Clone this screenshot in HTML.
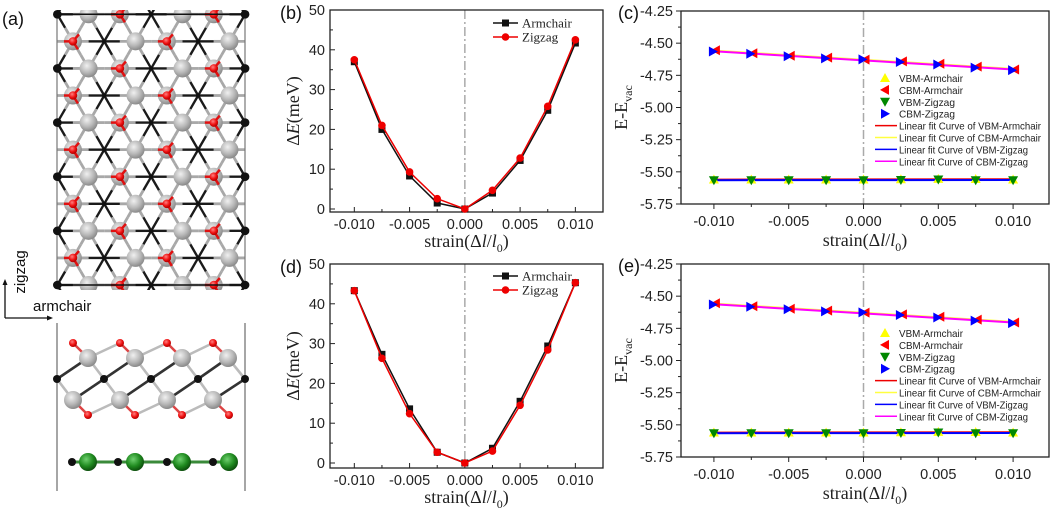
<!DOCTYPE html>
<html><head><meta charset="utf-8">
<style>
html,body{margin:0;padding:0;background:#fff;}
svg{display:block;}
text{font-family:"Liberation Sans",Arial,sans-serif;}
.tm{font-family:"Liberation Serif","Times New Roman",serif;}
</style></head>
<body>
<svg id="fig" width="1052" height="508" viewBox="0 0 1052 508" xmlns="http://www.w3.org/2000/svg">
<defs>
<radialGradient id="gGray" cx="40%" cy="35%" r="65%"><stop offset="0" stop-color="#f0f0f0"/><stop offset="0.6" stop-color="#b8b8b8"/><stop offset="1" stop-color="#8a8a8a"/></radialGradient>
<radialGradient id="gRed" cx="40%" cy="35%" r="65%"><stop offset="0" stop-color="#ff8080"/><stop offset="0.6" stop-color="#ee1010"/><stop offset="1" stop-color="#b00000"/></radialGradient>
<radialGradient id="gGreen" cx="40%" cy="35%" r="65%"><stop offset="0" stop-color="#6fd06f"/><stop offset="0.6" stop-color="#1f8a1f"/><stop offset="1" stop-color="#0c4f0c"/></radialGradient>
<clipPath id="topClip"><rect x="57" y="10" width="188" height="280"/></clipPath>
</defs>
<g id="structure"></g>
<g id="panels"></g>
</svg>
<script>
// ---------- chart data ----------
const strainValues = [-0.01,-0.0075,-0.005,-0.0025,0,0.0025,0.005,0.0075,0.01];
const bArmchair = [37.0,20.0,8.3,1.5,0,4.0,12.2,24.8,41.7];
const bZigzag = [37.5,21.0,9.3,2.6,0,4.7,12.8,25.8,42.5];
const dArmchair = [43.3,27.3,13.6,2.7,0,3.7,15.5,29.4,45.3];
const dZigzag = [43.3,26.3,12.4,2.7,0,3.0,14.5,28.4,45.3];
const cbmArmchair = [-4.555,-4.578,-4.598,-4.612,-4.628,-4.642,-4.66,-4.682,-4.705];
const cbmZigzag = [-4.565,-4.582,-4.602,-4.618,-4.626,-4.646,-4.666,-4.69,-4.71];
const vbmArmchair = [-5.56,-5.56,-5.56,-5.56,-5.56,-5.558,-5.555,-5.556,-5.56];
const vbmZigzag = [-5.565,-5.565,-5.565,-5.565,-5.565,-5.563,-5.56,-5.565,-5.565];
const xTicks = [-0.01,-0.005,0,0.005,0.01];
const xTickLabels = ["-0.010","-0.005","0.000","0.005","0.010"];
const eTicks = [0,10,20,30,40,50];
const vTicks = [-4.25,-4.5,-4.75,-5.0,-5.25,-5.5,-5.75];
const vTickLabels = ["-4.25","-4.50","-4.75","-5.00","-5.25","-5.50","-5.75"];

const NS="http://www.w3.org/2000/svg";
function mk(tag, attrs, parent){const e=document.createElementNS(NS,tag);for(const k in attrs)e.setAttribute(k,attrs[k]);parent.appendChild(e);return e;}
function txt(s, attrs, parent){const e=mk('text',attrs,parent);e.textContent=s;return e;}

const panels=document.getElementById('panels');

function linFit(xs,ys){const n=xs.length;let sx=0,sy=0,sxx=0,sxy=0;for(let i=0;i<n;i++){sx+=xs[i];sy+=ys[i];sxx+=xs[i]*xs[i];sxy+=xs[i]*ys[i];}const b=(n*sxy-sx*sy)/(n*sxx-sx*sx);return [b,(sy-b*sx)/n];}

function energyPanel(pname,label,box,arm,zig,legY){
  const g=mk('g',{},panels);
  
  
  const X=v=>box.l+(v-(-0.0122))/(0.0125+0.0122)*(box.r-box.l);
  const Y=v=>box.y0-(v-0)*(box.y0-box.y50)/50;
  const pl=txt(label,{x:box.l-50,y:box.t+9,'font-size':18,fill:'#111'},g);
  
  const zl=mk('line',{x1:X(0),x2:X(0),y1:box.t,y2:box.b,stroke:'#aaa','stroke-width':1.5,'stroke-dasharray':'9,3,2,3'},g);
  
  const frame=mk('rect',{x:box.l,y:box.t,width:box.r-box.l,height:box.b-box.t,fill:'none',stroke:'#222','stroke-width':1.3},g);
  
  xTicks.forEach((v,i)=>{
    mk('line',{x1:X(v),x2:X(v),y1:box.b,y2:box.b-5,stroke:'#222'},g);
    const t=txt(xTickLabels[i],{x:X(v),y:box.b+17,'text-anchor':'middle','font-size':14.5,fill:'#222'},g);
    
  });
  for(let k=0;k<9;k++){const v=-0.01+k*0.0025;if(k%2)mk('line',{x1:X(v),x2:X(v),y1:box.b,y2:box.b-3,stroke:'#222'},g);}
  eTicks.forEach(v=>{
    mk('line',{x1:box.l,x2:box.l+5,y1:Y(v),y2:Y(v),stroke:'#222'},g);
    if(v<50)mk('line',{x1:box.l,x2:box.l+3,y1:Y(v+5),y2:Y(v+5),stroke:'#222'},g);
    const t=txt(String(v),{x:box.l-5,y:Y(v)+5,'text-anchor':'end','font-size':14.5,fill:'#222'},g);
    
  });
  const yt=txt('',{x:0,y:0,'font-size':18,fill:'#222','text-anchor':'middle',class:'tm',transform:`translate(${box.l-31},${(box.t+box.b)/2}) rotate(-90)`},g);
  yt.innerHTML='Δ<tspan font-style="italic">E</tspan>(meV)';
  
  const xt=txt('',{x:(box.l+box.r)/2,y:box.b+35,'font-size':18,fill:'#222','text-anchor':'middle',class:'tm'},g);
  xt.innerHTML='strain(Δ<tspan font-style="italic">l</tspan>/<tspan font-style="italic">l</tspan><tspan font-size="12" dy="5">0</tspan><tspan dy="-5">)</tspan>';
  
  const series=[[arm,'#111','sq','armchair-series'],[zig,'#e00','ci','zigzag-series']];
  series.forEach(([d,c,m,nm])=>{
    const sg=mk('g',{},g);
    
    mk('polyline',{points:strainValues.map((v,i)=>X(v)+','+Y(d[i])).join(' '),fill:'none',stroke:c,'stroke-width':1.5},sg);
    strainValues.forEach((v,i)=>{
      let p;
      if(m==='sq')p=mk('rect',{x:X(v)-3.5,y:Y(d[i])-3.5,width:7,height:7,fill:c},sg);
      else p=mk('circle',{cx:X(v),cy:Y(d[i]),r:3.8,fill:c},sg);
      
    });
  });
  const lg=mk('g',{},g);
  
  [['Armchair','#111','sq'],['Zigzag','#e00','ci']].forEach(([s,c,m],i)=>{
    const y=legY+i*14;
    const e=mk('g',{},lg);
    
    mk('line',{x1:box.l+163,x2:box.l+188,y1:y,y2:y,stroke:c,'stroke-width':1.5},e);
    if(m==='sq')mk('rect',{x:box.l+172,y:y-3.5,width:7,height:7,fill:c},e);else mk('circle',{cx:box.l+175.5,cy:y,r:3.8,fill:c},e);
    txt(s,{x:box.l+192,y:y+4.5,'font-size':13,fill:'#222',class:'tm'},e);
  });
}

function tri(g,x,y,dir,c,s){
  let pts;
  if(dir==='up')pts=[[x,y-s],[x-s,y+s*0.8],[x+s,y+s*0.8]];
  else if(dir==='down')pts=[[x,y+s],[x-s,y-s*0.8],[x+s,y-s*0.8]];
  else if(dir==='left')pts=[[x-s,y],[x+s*0.8,y-s],[x+s*0.8,y+s]];
  else pts=[[x+s,y],[x-s*0.8,y-s],[x-s*0.8,y+s]];
  return mk('polygon',{points:pts.map(p=>p.join(',')).join(' '),fill:c},g);
}

function bandPanel(pname,label,box,legY){
  const g=mk('g',{},panels);
  
  
  const X=v=>box.l+(v-(-0.0122))/(0.0124+0.0122)*(box.r-box.l);
  const Y=v=>box.t+(-4.25-v)/1.5*(box.b-box.t);
  const pl=txt(label,{x:box.l-63,y:box.t+8,'font-size':18,fill:'#111'},g);
  
  const zl=mk('line',{x1:X(0),x2:X(0),y1:box.t,y2:box.b,stroke:'#aaa','stroke-width':1.5,'stroke-dasharray':'9,3,2,3'},g);
  
  const frame=mk('rect',{x:box.l,y:box.t,width:box.r-box.l,height:box.b-box.t,fill:'none',stroke:'#222','stroke-width':1.3},g);
  
  xTicks.forEach((v,i)=>{
    mk('line',{x1:X(v),x2:X(v),y1:box.b,y2:box.b+5,stroke:'#222'},g);
    const t=txt(xTickLabels[i],{x:X(v),y:box.b+22,'text-anchor':'middle','font-size':14.5,fill:'#222'},g);
    
  });
  for(let k=1;k<9;k+=2){const v=-0.01+k*0.0025;mk('line',{x1:X(v),x2:X(v),y1:box.b,y2:box.b+3,stroke:'#222'},g);}
  vTicks.forEach((v,i)=>{
    mk('line',{x1:box.l,x2:box.l-5,y1:Y(v),y2:Y(v),stroke:'#222'},g);
    if(i<vTicks.length-1)mk('line',{x1:box.l,x2:box.l-3,y1:Y(v-0.125),y2:Y(v-0.125),stroke:'#222'},g);
    const t=txt(vTickLabels[i],{x:box.l-8,y:Y(v)+5,'text-anchor':'end','font-size':14.5,fill:'#222'},g);
    
  });
  const yt=txt('',{x:0,y:0,'font-size':18,fill:'#222','text-anchor':'middle',class:'tm',transform:`translate(${box.l-54},${(box.t+box.b)/2}) rotate(-90)`},g);
  yt.innerHTML='E-E<tspan font-size="12" dy="5">vac</tspan>';
  
  const xt=txt('',{x:(box.l+box.r)/2,y:box.b+42,'font-size':18,fill:'#222','text-anchor':'middle',class:'tm'},g);
  xt.innerHTML='strain(Δ<tspan font-style="italic">l</tspan>/<tspan font-style="italic">l</tspan><tspan font-size="12" dy="5">0</tspan><tspan dy="-5">)</tspan>';
  
  const fits=[[vbmArmchair,'#e00','fit-vbm-armchair'],[cbmArmchair,'#ffff40','fit-cbm-armchair'],[vbmZigzag,'#00f','fit-vbm-zigzag'],[cbmZigzag,'#f0f','fit-cbm-zigzag']];
  fits.forEach(([d,c,nm])=>{
    const [b,a]=linFit(strainValues,d);
    const l=mk('line',{x1:X(-0.01),x2:X(0.01),y1:Y(a+b*-0.01),y2:Y(a+b*0.01),stroke:c,'stroke-width':2},g);
    
  });
  const mks=[[vbmArmchair,'up','#ff0','vbm-armchair-series'],[cbmArmchair,'left','#f00','cbm-armchair-series'],[vbmZigzag,'down','#080','vbm-zigzag-series'],[cbmZigzag,'right','#00f','cbm-zigzag-series']];
  mks.forEach(([d,dir,c,nm])=>{
    const sg=mk('g',{},g);
    
    strainValues.forEach((v,i)=>{
      const p=tri(sg,X(v)+(dir==='left'?2:dir==='right'?-1:0),Y(d[i]),dir,c,5);
      
    });
  });
  const lg=mk('g',{},g);
  
  const names=['VBM-Armchair','CBM-Armchair','VBM-Zigzag','CBM-Zigzag','Linear fit Curve of VBM-Armchair','Linear fit Curve of CBM-Armchair','Linear fit Curve of VBM-Zigzag','Linear fit Curve of CBM-Zigzag'];
  const widths=[64,64,56,56,142,142,129,129];
  names.forEach((s,i)=>{
    const y=legY+i*11.9;
    const e=mk('g',{},lg);
    
    if(i<4){tri(e,885,y,mks[i][1],mks[i][2],5);}
    else mk('line',{x1:875,x2:897,y1:y,y2:y,stroke:fits[i-4][1],'stroke-width':1.5},e);
    txt(s,{x:899,y:y+4,'font-size':10.2,fill:'#222',textLength:widths[i],lengthAdjust:'spacingAndGlyphs'},e);
  });
}

energyPanel('delta-e-chart-b','(b)',{l:330,r:603,t:10,b:212,y0:209,y50:10},bArmchair,bZigzag,23);
energyPanel('delta-e-chart-d','(d)',{l:330,r:603,t:264,b:468,y0:463,y50:264},dArmchair,dZigzag,276);
bandPanel('band-edge-chart-c','(c)',{l:681,r:1049,t:11,b:204},78);
bandPanel('band-edge-chart-e','(e)',{l:681,r:1049,t:264,b:457},333);

// ---------- structure (a) ----------
const S=document.getElementById('structure');
const aLabel=txt('(a)',{x:2,y:25,'font-size':18,fill:'#111'},S);


const topView=mk('g',{'clip-path':'url(#topClip)'},S);


const rowY=r=>14.3+27.07*r, colX=c=>57.3+15.65*c;
function kind(r,c){const m=((c%6)+6)%6;if(r%2===0){if(m===0)return 'k';if(m===2)return 'g';if(m===4)return 'r';}else{if(m===1)return 'r';if(m===3)return 'k';if(m===5)return 'g';}return null;}
const atoms=[];
for(let r=0;r<=10;r++)for(let c=0;c<=12;c++){const k=kind(r,c);if(k)atoms.push({r,c,k,x:colX(c),y:rowY(r)});}
const colr={g:'#a8a8a8',r:'#a8a8a8',k:'#1a1a1a'};
atoms.forEach(a=>{
  [[0,2],[0,-2],[1,1],[1,-1],[-1,1],[-1,-1]].forEach(([dr,dc])=>{
    const nx=colX(a.c+dc),ny=rowY(a.r+dr);
    const mx=(a.x+nx)/2,my=(a.y+ny)/2;
    mk('line',{x1:a.x,y1:a.y,x2:mx,y2:my,stroke:colr[a.k],'stroke-width':a.k==='k'?2.4:2.8},topView);
  });
});
atoms.forEach(a=>{
  if(a.k==='g'||a.k==='r')mk('circle',{cx:a.x,cy:a.y,r:9,fill:'url(#gGray)'},topView);
});
atoms.forEach(a=>{
  if(a.k==='r'){
    mk('line',{x1:a.x,y1:a.y,x2:a.x+6,y2:a.y-7,stroke:'#e01010','stroke-width':2.5},topView);
    mk('line',{x1:a.x,y1:a.y,x2:a.x-9,y2:a.y,stroke:'#e01010','stroke-width':2.5},topView);
    mk('line',{x1:a.x,y1:a.y,x2:a.x+5,y2:a.y+8,stroke:'#e01010','stroke-width':2.5},topView);
    mk('circle',{cx:a.x,cy:a.y,r:4.3,fill:'url(#gRed)'},topView);
  }
  if(a.k==='k'){mk('circle',{cx:a.x,cy:a.y,r:(a.c===0||a.c===12)?4.3:2,fill:'#111'},topView);}
});
mk('line',{x1:57,y1:14.3,x2:245,y2:14.3,stroke:'#111','stroke-width':1.5},S);
mk('line',{x1:57,y1:285,x2:245,y2:285,stroke:'#111','stroke-width':1.5},S);
mk('line',{x1:57,y1:14,x2:57,y2:285,stroke:'#777','stroke-width':1.2},S);
mk('line',{x1:245,y1:14,x2:245,y2:285,stroke:'#777','stroke-width':1.2},S);
atoms.forEach(a=>{if(a.k==='k'&&(a.c===0||a.c===12))mk('circle',{cx:a.x,cy:a.y,r:4.3,fill:'#111'},S);});
const ar=mk('g',{},S);


mk('line',{x1:5,y1:318,x2:5,y2:283,stroke:'#111','stroke-width':1.3},ar);
mk('polygon',{points:'5,279 2.5,285 7.5,285',fill:'#111'},ar);
mk('line',{x1:5,y1:318,x2:48,y2:318,stroke:'#111','stroke-width':1.3},ar);
mk('polygon',{points:'53,318 47,315.5 47,320.5',fill:'#111'},ar);
txt('zigzag',{x:0,y:0,'font-size':15,fill:'#111','text-anchor':'middle',transform:'translate(25,272) rotate(-90)'},ar);
txt('armchair',{x:33,y:311,'font-size':15,fill:'#111'},ar);
const sv=mk('g',{},S);


mk('line',{x1:57,y1:323,x2:57,y2:491,stroke:'#777','stroke-width':1.3},sv);
mk('line',{x1:245,y1:323,x2:245,y2:491,stroke:'#777','stroke-width':1.3},sv);
const topGs=[88,135,182,228],botGs=[73,120,167,213],blk=[57,104,151,198,245],redT=[73,120,167,213],redB=[88,135,182,229];
for(let i=0;i<4;i++){
  mk('line',{x1:topGs[i],y1:358,x2:blk[i],y2:379,stroke:'#333','stroke-width':2.6},sv);
  mk('line',{x1:topGs[i],y1:358,x2:blk[i+1],y2:379,stroke:'#bbb','stroke-width':2.6},sv);
  mk('line',{x1:botGs[i],y1:400,x2:blk[i],y2:379,stroke:'#bbb','stroke-width':2.6},sv);
  mk('line',{x1:botGs[i],y1:400,x2:blk[i+1],y2:379,stroke:'#333','stroke-width':2.6},sv);
  mk('line',{x1:redT[i],y1:343,x2:topGs[i],y2:358,stroke:'#d44','stroke-width':2.5},sv);
  if(i<3)mk('line',{x1:redT[i+1],y1:343,x2:topGs[i],y2:358,stroke:'#bbb','stroke-width':2.5},sv);
  mk('line',{x1:redB[i],y1:415,x2:botGs[i],y2:400,stroke:'#d44','stroke-width':2.5},sv);
  if(i<3)mk('line',{x1:redB[i],y1:415,x2:botGs[i+1],y2:400,stroke:'#bbb','stroke-width':2.5},sv);
}
topGs.forEach(x=>mk('circle',{cx:x,cy:358,r:9,fill:'url(#gGray)'},sv));
botGs.forEach(x=>mk('circle',{cx:x,cy:400,r:9,fill:'url(#gGray)'},sv));
blk.forEach(x=>mk('circle',{cx:x,cy:379,r:4,fill:'#111'},sv));
redT.forEach(x=>mk('circle',{cx:x,cy:343,r:4,fill:'url(#gRed)'},sv));
redB.forEach(x=>mk('circle',{cx:x,cy:415,r:4,fill:'url(#gRed)'},sv));
mk('line',{x1:72,y1:462,x2:229,y2:462,stroke:'#3a8a3a','stroke-width':3},sv);
[72,118,167,213].forEach(x=>mk('circle',{cx:x,cy:462,r:4,fill:'#111'},sv));
[88,135,182,229].forEach(x=>mk('circle',{cx:x,cy:462,r:9,fill:'url(#gGreen)'},sv));
</script>
</body></html>
